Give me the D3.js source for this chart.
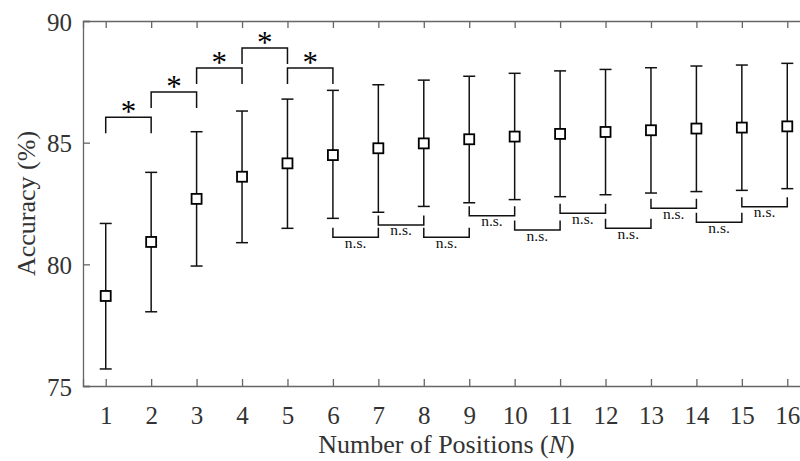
<!DOCTYPE html>
<html>
<head>
<meta charset="utf-8">
<script src="https://cdn.jsdelivr.net/npm/d3@7"></script>
<style>
  body { margin: 0; background: #fff; }
  text { font-family: "Liberation Serif", "DejaVu Serif", serif; }
</style>
</head>
<body>
<div id="chart"></div>
<script>
// data
const positions = [1, 2, 3, 4, 5, 6, 7, 8, 9, 10, 11, 12, 13, 14, 15, 16];
const meanAcc = [78.70, 80.92, 82.69, 83.60, 84.15, 84.49, 84.77, 84.97, 85.14, 85.25, 85.36, 85.44, 85.51, 85.58, 85.62, 85.67];
const upperAcc = [81.68, 83.78, 85.45, 86.30, 86.79, 87.15, 87.38, 87.57, 87.73, 87.85, 87.95, 88.01, 88.08, 88.15, 88.19, 88.26];
const lowerAcc = [75.70, 78.05, 79.93, 80.89, 81.48, 81.89, 82.14, 82.38, 82.53, 82.66, 82.78, 82.86, 82.93, 82.99, 83.04, 83.11];

// significance brackets (pairs of N, level in %)
const sigPairs = [[1, 2], [2, 3], [3, 4], [4, 5], [5, 6]];
const sigLevels = [86.04, 87.08, 88.07, 88.89, 88.07];
const nsPairs = [[6, 7], [7, 8], [8, 9], [9, 10], [10, 11], [11, 12], [12, 13], [13, 14], [14, 15], [15, 16]];
const nsLevels = [81.11, 81.62, 81.11, 82.00, 81.41, 82.10, 81.48, 82.30, 81.73, 82.37];

const yTicks = [75, 80, 85, 90];

const W = 800, H = 461;
const margin = { top: 21, left: 83, bottom: 75 };

const svg = d3.select("#chart").append("svg")
  .attr("width", W).attr("height", H);

const x = d3.scaleLinear().domain([0.5, 16.5]).range([margin.left, 810]);
const y = d3.scaleLinear().domain([75, 90]).range([H - margin.bottom, margin.top]);

const axisCol = "#666";
const textCol = "#333";

// axes (ticks point inward, MATLAB style)
const gx = svg.append("g")
  .attr("transform", `translate(0,${y(75)})`)
  .call(d3.axisBottom(x).tickValues(positions).tickSize(-7).tickPadding(20).tickFormat(d3.format("d")));
const gxTop = svg.append("g")
  .attr("transform", `translate(0,${y(90)})`)
  .call(d3.axisTop(x).tickValues(positions).tickSize(-7).tickFormat(""));
const gy = svg.append("g")
  .attr("transform", `translate(${margin.left},0)`)
  .call(d3.axisLeft(y).tickValues(yTicks).tickSize(-7).tickPadding(11));

[gx, gxTop, gy].forEach(g => {
  g.select(".domain").attr("stroke", axisCol).attr("stroke-width", 1.3);
  g.selectAll(".tick line").attr("stroke", axisCol).attr("stroke-width", 1.3);
  g.selectAll(".tick text")
    .attr("fill", textCol)
    .style("font-family", "'Liberation Serif', serif")
    .style("font-size", "25px");
});
gx.selectAll(".tick text").attr("dy", "0.71em");
gy.selectAll(".tick text").attr("dy", "0.36em");

// axis labels
const xl = svg.append("text")
  .attr("x", (x.range()[0] + x.range()[1]) / 2)
  .attr("y", 453)
  .attr("text-anchor", "middle")
  .attr("fill", textCol)
  .style("font-size", "26px");
xl.append("tspan").text("Number of Positions (");
xl.append("tspan").attr("font-style", "italic").text("N");
xl.append("tspan").text(")");

svg.append("text")
  .attr("transform", `translate(35,${(y(75) + y(90)) / 2}) rotate(-90)`)
  .attr("text-anchor", "middle")
  .attr("fill", textCol)
  .style("font-size", "26px")
  .text("Accuracy (%)");

// error bars
const capW = 6;
const bars = svg.append("g").attr("stroke", "#111").attr("stroke-width", 1.5).attr("fill", "none");
positions.forEach((p, i) => {
  bars.append("line")
    .attr("x1", x(p)).attr("x2", x(p))
    .attr("y1", y(lowerAcc[i])).attr("y2", y(upperAcc[i]));
  bars.append("line")
    .attr("x1", x(p) - capW).attr("x2", x(p) + capW)
    .attr("y1", y(upperAcc[i])).attr("y2", y(upperAcc[i]));
  bars.append("line")
    .attr("x1", x(p) - capW).attr("x2", x(p) + capW)
    .attr("y1", y(lowerAcc[i])).attr("y2", y(lowerAcc[i]));
});

// mean markers
svg.append("g").selectAll("rect")
  .data(positions)
  .join("rect")
  .attr("x", d => x(d) - 5)
  .attr("y", (d, i) => y(meanAcc[i]) - 5)
  .attr("width", 10).attr("height", 10)
  .attr("fill", "#fff")
  .attr("stroke", "#000")
  .attr("stroke-width", 1.8);

// significance brackets
const br = svg.append("g");
sigPairs.forEach((pr, i) => {
  const yy = y(sigLevels[i]);
  br.append("path")
    .attr("d", `M${x(pr[0])},${yy + 16}V${yy}H${x(pr[1])}V${yy + 16}`)
    .attr("fill", "none").attr("stroke", "#111").attr("stroke-width", 1.5);
  br.append("text")
    .attr("x", (x(pr[0]) + x(pr[1])) / 2)
    .attr("y", yy + 5)
    .attr("text-anchor", "middle")
    .attr("fill", "#000")
    .style("font-size", "31px")
    .text("*");
});
nsPairs.forEach((pr, i) => {
  const yy = y(nsLevels[i]);
  br.append("path")
    .attr("d", `M${x(pr[0])},${yy - 9.5}V${yy}H${x(pr[1])}V${yy - 9.5}`)
    .attr("fill", "none").attr("stroke", "#111").attr("stroke-width", 1.5);
  br.append("text")
    .attr("x", (x(pr[0]) + x(pr[1])) / 2)
    .attr("y", yy + 10.5)
    .attr("text-anchor", "middle")
    .attr("fill", "#111")
    .style("font-size", "15.5px")
    .text("n.s.");
});
</script>
</body>
</html>
